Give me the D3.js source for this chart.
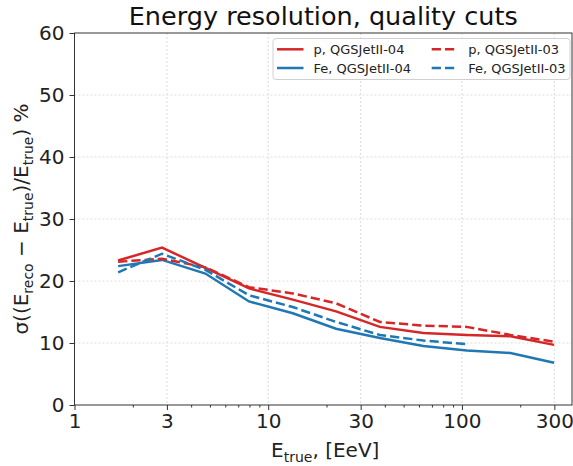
<!DOCTYPE html>
<html>
<head>
<meta charset="utf-8">
<script src="https://cdn.jsdelivr.net/npm/d3@7"></script>
<style>
  html, body { margin: 0; padding: 0; background: #fff; }
  svg { display: block; font-family: "DejaVu Sans", sans-serif; }
</style>
</head>
<body>
<svg id="chart" width="573" height="466"></svg>
<script>
// Energy bin centres [EeV]
const energies = [1.68, 2.83, 4.74, 7.96, 13.4, 22.4, 37.7, 63.2, 106, 178, 299];

// Resolution in % for each primary / hadronic model
const pQGS04  = [23.3, 25.4, 22.1, 18.8, 17.0, 15.1, 12.6, 11.6, 11.3, 11.1, 9.7];
const feQGS04 = [22.4, 23.4, 21.2, 16.7, 14.8, 12.3, 10.8, 9.5, 8.8, 8.4, 6.8];
const pQGS03  = [23.1, 23.6, 22.2, 19.0, 18.0, 16.4, 13.4, 12.8, 12.6, 11.3, 10.2];
const feQGS03 = [21.4, 24.4, 21.8, 17.7, 15.8, 13.4, 11.3, 10.4, 9.8];

const xTicks = [1, 3, 10, 30, 100, 300];
const yTicks = [0, 10, 20, 30, 40, 50, 60];

const series = [
  { label: "p, QGSJetII-04",  values: pQGS04,  color: "#d62728", dash: null },
  { label: "Fe, QGSJetII-04", values: feQGS04, color: "#1f77b4", dash: null },
  { label: "p, QGSJetII-03",  values: pQGS03,  color: "#d62728", dash: "9.25,4" },
  { label: "Fe, QGSJetII-03", values: feQGS03, color: "#1f77b4", dash: "9.25,4" }
];

const svg = d3.select("#chart");
const plotL = 74.5, plotR = 572, plotT = 33, plotB = 405;

const x = d3.scaleLog().domain([1, 370]).range([plotL, plotR]);
const y = d3.scaleLinear().domain([0, 60]).range([plotB, plotT]);

// grid
const grid = svg.append("g");
grid.selectAll(".gy").data(yTicks.slice(1, -1)).enter().append("line")
  .attr("x1", plotL).attr("x2", plotR)
  .attr("y1", d => y(d)).attr("y2", d => y(d))
  .attr("stroke", "#dcdcdc").attr("stroke-width", 1).attr("stroke-dasharray", "2,2");
grid.selectAll(".gx").data(xTicks.slice(1)).enter().append("line")
  .attr("x1", d => x(d)).attr("x2", d => x(d))
  .attr("y1", plotT).attr("y2", plotB)
  .attr("stroke", "#dcdcdc").attr("stroke-width", 1).attr("stroke-dasharray", "2,2");

// lines
const line = d3.line()
  .x((d, i) => x(energies[i]))
  .y(d => y(d));

svg.append("g").selectAll("path").data(series).enter().append("path")
  .attr("d", s => line(s.values))
  .attr("fill", "none")
  .attr("stroke", s => s.color)
  .attr("stroke-width", 2.5)
  .attr("stroke-dasharray", s => s.dash);

// frame
svg.append("rect")
  .attr("x", plotL).attr("y", plotT)
  .attr("width", plotR - plotL).attr("height", plotB - plotT)
  .attr("fill", "none").attr("stroke", "#333").attr("stroke-width", 1);

// axes
const minorTicks = [];
[1, 10, 100].forEach(dec => { for (let k = 2; k <= 9; k++) { if (k !== 3 && dec * k <= 370) minorTicks.push(dec * k); } });

const xAxis = svg.append("g").attr("transform", `translate(0,${plotB})`)
  .call(d3.axisBottom(x).tickValues(xTicks).tickFormat(d3.format("d")).tickSize(5).tickPadding(4));
const xMinor = svg.append("g").attr("transform", `translate(0,${plotB})`)
  .call(d3.axisBottom(x).tickValues(minorTicks).tickFormat("").tickSize(2.5));
const yAxis = svg.append("g").attr("transform", `translate(${plotL},0)`)
  .call(d3.axisLeft(y).tickValues(yTicks).tickSize(5).tickPadding(5));

[xAxis, xMinor, yAxis].forEach(g => {
  g.select(".domain").remove();
  g.selectAll(".tick line").attr("stroke", "#333");
  g.selectAll("text").attr("font-size", 20).attr("fill", "#222")
    .attr("font-family", "DejaVu Sans, sans-serif");
});

// title
svg.append("text").attr("x", (plotL + plotR) / 2).attr("y", 25)
  .attr("text-anchor", "middle").attr("font-size", 25.5).attr("fill", "#111")
  .text("Energy resolution, quality cuts");

// x label
const xl = svg.append("text").attr("x", (plotL + plotR) / 2 + 2).attr("y", 457)
  .attr("text-anchor", "middle").attr("font-size", 20).attr("fill", "#222");
xl.append("tspan").text("E");
xl.append("tspan").attr("font-size", 14).attr("dy", 4.5).text("true");
xl.append("tspan").attr("dy", -4.5).text(", [EeV]");

// y label
const yl = svg.append("text")
  .attr("transform", `translate(28,${(plotT + plotB) / 2}) rotate(-90)`)
  .attr("text-anchor", "middle").attr("font-size", 20).attr("fill", "#222");
yl.append("tspan").text("σ((E");
yl.append("tspan").attr("font-size", 14).attr("dy", 4.5).text("reco");
yl.append("tspan").attr("dy", -4.5).text(" − E");
yl.append("tspan").attr("font-size", 14).attr("dy", 4.5).text("true");
yl.append("tspan").attr("dy", -4.5).text(")/E");
yl.append("tspan").attr("font-size", 14).attr("dy", 4.5).text("true");
yl.append("tspan").attr("dy", -4.5).text(") %");

// legend
const lg = svg.append("g");
lg.append("rect").attr("x", 273).attr("y", 38.5).attr("width", 297).attr("height", 41)
  .attr("rx", 3).attr("fill", "#fff").attr("fill-opacity", 0.8)
  .attr("stroke", "#d0d0d0").attr("stroke-width", 1);
const cols = [277, 431.7];
const rows = [49.3, 68];
series.forEach((s, i) => {
  const cx = cols[Math.floor(i / 2)], cy = rows[i % 2];
  lg.append("line").attr("x1", cx).attr("x2", cx + 26.5).attr("y1", cy).attr("y2", cy)
    .attr("stroke", s.color).attr("stroke-width", 2.5).attr("stroke-dasharray", s.dash);
  lg.append("text").attr("x", cx + 36.5).attr("y", cy + 4.7)
    .attr("font-size", 13).attr("fill", "#222").text(s.label);
});
</script>
</body>
</html>
